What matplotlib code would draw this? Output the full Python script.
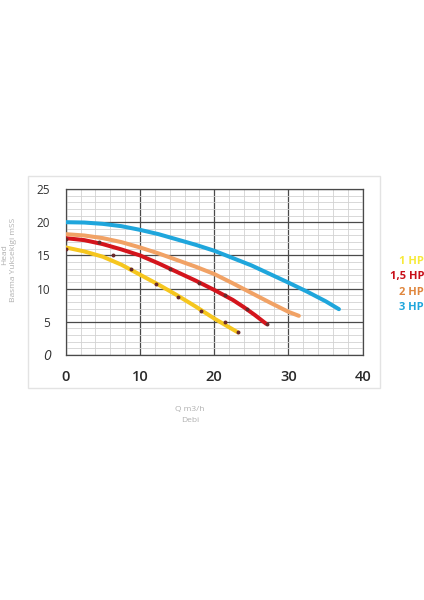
import matplotlib
matplotlib.use("Agg")
import matplotlib.pyplot as plt
from matplotlib.patches import Rectangle

plt.rcParams['font.family'] = ['Open Sans', 'DejaVu Sans']

# ---- data ----
x_1hp = [0, 2.5, 5, 7.5, 10, 12.5, 15, 17.5, 20, 23.2]
y_1hp = [16.2, 15.6, 14.8, 13.6, 12.1, 10.6, 9.0, 7.3, 5.5, 3.4]

x_15hp = [0, 2.5, 5, 7.5, 10, 12.5, 15, 17.5, 20, 22.5, 24, 25.5, 27]
y_15hp = [17.6, 17.3, 16.7, 15.9, 15.0, 13.8, 12.5, 11.2, 9.8, 8.3, 7.2, 6.0, 4.7]

x_2hp = [0, 2.5, 5, 7.5, 10, 12.5, 15, 17.5, 20, 22.5, 25, 27.5, 30, 31.4]
y_2hp = [18.2, 18.0, 17.6, 17.0, 16.2, 15.3, 14.3, 13.3, 12.2, 10.8, 9.35, 7.9, 6.5, 5.9]

x_3hp = [0, 2.5, 5, 7.5, 10, 12.5, 15, 17.5, 20, 22.5, 25, 27.5, 30, 32.5, 35, 36.8]
y_3hp = [20.0, 19.95, 19.75, 19.4, 18.85, 18.2, 17.4, 16.6, 15.7, 14.6, 13.5, 12.2, 10.9, 9.55, 8.1, 6.9]

pts_x = [0, 0, 4.5, 6.35, 8.8, 12.1, 14.1, 15.1, 17.9, 18.2, 21.4, 21.4, 23.2, 24.4, 27.1]
pts_y = [15.9, 17.5, 17.0, 15.0, 12.9, 10.7, 13.0, 8.8, 10.8, 6.7, 5.0, 9.0, 3.5, 7.0, 4.6]

series_labels = ["1 HP", "1,5 HP", "2 HP", "3 HP"]
series_colors = ["#f6c61e", "#d4141c", "#f1a265", "#1fa6dc"]
label_colors = ["#f7ea3a", "#c8101a", "#e0873e", "#1fa6dc"]

x_ticks = [0, 10, 20, 30, 40]
y_ticks = [0, 5, 10, 15, 20, 25]

W, H = 424, 600
fig = plt.figure(figsize=(W / 100, H / 100), dpi=100)
fig.patch.set_facecolor("white")

# outer light box
fig.patches.append(Rectangle((28 / W, 1 - 388 / H), (380 - 28) / W, (388 - 176) / H,
                             transform=fig.transFigure, fill=False,
                             edgecolor="#e3e3e3", lw=1.0))

left, right, top, bottom = 65.7, 362.7, 189, 355
ax = fig.add_axes([left / W, 1 - bottom / H, (right - left) / W, (bottom - top) / H])
ax.set_xlim(0, 40)
ax.set_ylim(0, 25)
ax.set_xticks(x_ticks)
ax.set_yticks(y_ticks)
ax.set_xticks(range(0, 41, 2), minor=True)
ax.set_yticks(range(0, 26, 1), minor=True)
ax.grid(which="minor", color="#d2d2d2", lw=0.6)
ax.grid(which="major", color="#4a4a4a", lw=0.9)
ax.set_axisbelow(True)
for s in ax.spines.values():
    s.set_color("#4a4a4a")
    s.set_linewidth(0.9)
ax.tick_params(which="both", length=0)
ax.tick_params(axis="x", pad=11, labelsize=10.5, labelcolor="#2b2b2b")
ax.tick_params(axis="y", pad=11, labelsize=8.5, labelcolor="#333333")
for t in ax.get_xticklabels():
    t.set_fontweight("semibold")
ylab = ax.get_yticklabels()
ylab[0].set_style("italic")
ylab[0].set_fontsize(10)

curves = [(x_1hp, y_1hp), (x_15hp, y_15hp), (x_2hp, y_2hp), (x_3hp, y_3hp)]
for (xs, ys), c in zip(curves, series_colors):
    ax.plot(xs, ys, color=c, lw=2.9, solid_capstyle="round", solid_joinstyle="round", zorder=3)
ax.scatter(pts_x, pts_y, s=8, color="#6a2a2a", zorder=4, linewidths=0)

# legend-like labels on the right
ys_px = [262, 277, 292.5, 307.5]
for lab, c, yp in zip(series_labels, label_colors, ys_px):
    fig.text(1.0, 1 - yp / H, lab, color=c, fontsize=8, fontweight="bold",
             ha="right", va="center")

# axis titles
fig.text(190 / W, 1 - 409 / H, "Q m3/h", color="#b0b0b0", fontsize=6, ha="center", va="center")
fig.text(190 / W, 1 - 420 / H, "Debi", color="#b0b0b0", fontsize=6, ha="center", va="center")
fig.text(5 / W, 1 - 255 / H, "Head", color="#b0b0b0", fontsize=6, rotation=90, ha="center", va="center")
fig.text(14 / W, 1 - 260 / H, "Basma Yukseklgi mSS", color="#b0b0b0", fontsize=6, rotation=90,
         ha="center", va="center")

fig.savefig("out.png", dpi=100)
